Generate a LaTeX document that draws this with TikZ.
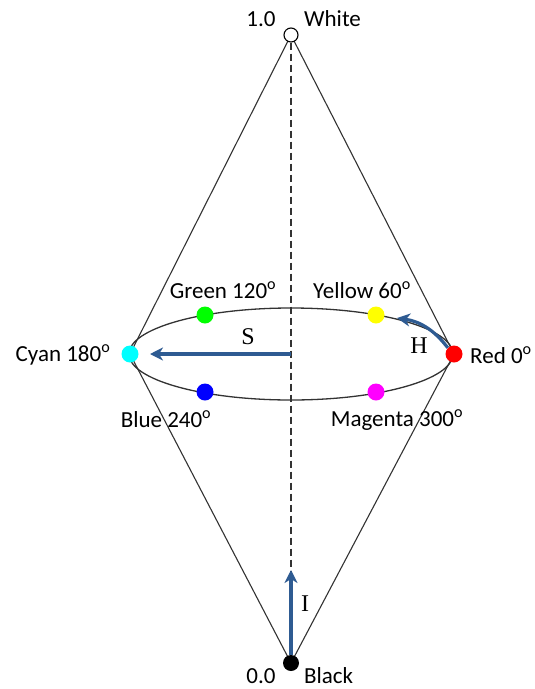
\documentclass[tikz,border=0pt]{standalone}
\usepackage{fontspec}
\setmainfont{Carlito}
\newfontfamily\axisfont{Liberation Serif}
\usetikzlibrary{arrows.meta,positioning}
\definecolor{arrowblue}{HTML}{2E5B92}
\definecolor{huecyan}{HTML}{00FFFF}
\definecolor{huegreen}{HTML}{00FF00}
\definecolor{hueyellow}{HTML}{FFFF00}
\definecolor{huemagenta}{HTML}{FF00FF}
\definecolor{hueblue}{HTML}{0000FF}
\newcommand{\degsup}{\textsuperscript{o}}

\begin{document}
\begin{tikzpicture}[x=1pt,y=-1pt,
  dot/.style={circle,inner sep=0pt,minimum size=17pt},
  lbl/.style={font=\fontsize{23}{23}\selectfont,inner sep=0pt},
  axlbl/.style={font=\axisfont\fontsize{24}{24}\selectfont,inner sep=0pt},
  axisarrow/.style={draw=arrowblue,line width=3.2pt,-{Stealth[length=13pt,width=13pt,inset=4pt]}}]
  \useasboundingbox (0,0) rectangle (535,689);
  % points of the double cone
  \coordinate (pW) at (291,35);
  \coordinate (pK) at (291,663);
  \coordinate (pC) at (130,354);
  \coordinate (pR) at (454,354);
  \coordinate (mid) at (291,354);
  \draw[line width=1.1pt,black!80] (pW) -- (pC) -- (pK) -- (pR) -- cycle;
  \draw[line width=1.3pt,black!80] (mid) ellipse [x radius=162,y radius=46];
  % dots
  \node[circle,draw,fill=white,line width=1.1pt,minimum size=14pt,inner sep=0pt] (white) at (pW) {};
  \node[circle,fill=black,minimum size=16pt,inner sep=0pt] (black) at (pK) {};
  \node[dot,fill=huecyan] (cyan) at (pC) {};
  \node[dot,fill=red] (red) at (pR) {};
  \node[dot,fill=huegreen] (green) at (205,315) {};
  \node[dot,fill=hueyellow] (yellow) at (376,315) {};
  \node[dot,fill=hueblue] (blue) at (205,392) {};
  \node[dot,fill=huemagenta] (magenta) at (376,392) {};
  % intensity axis
  \draw[line width=1.1pt,black!80,dash pattern=on 7pt off 4pt] (white.south) -- (black.north);
  \coordinate (sEnd) at (150,354);
  \coordinate (iEnd) at (291,570);
  \coordinate (hEnd) at (397,318);
  \draw[axisarrow] (mid) -- (sEnd);
  \draw[axisarrow] (black.north) -- (iEnd);
  \draw[axisarrow] (red.north west) to[bend right=22] (hEnd);
  % labels
  \node[lbl] (lw1) at (261,19) {1.0};
  \node[lbl,anchor=west] (lw2) at (304,19) {White};
  \node[lbl] (lk1) at (261,676) {0.0};
  \node[lbl,anchor=west] (lk2) at (304,676) {Black};
  \node[lbl] (lg) at (223,290) {Green 120\degsup};
  \node[lbl] (ly) at (362,290) {Yellow 60\degsup};
  \node[lbl] (lc) at (63,355) {Cyan 180\degsup};
  \node[lbl,anchor=west] (lr) at (470,355) {Red 0\degsup};
  \node[lbl] (lb) at (166,419) {Blue 240\degsup};
  \node[lbl] (lm) at (397,420) {Magenta 300\degsup};
  \node[axlbl] (lS) at (248,337) {S};
  \node[axlbl] (lH) at (419,346) {H};
  \node[axlbl] (lI) at (305,604) {I};
\end{tikzpicture}
\end{document}
